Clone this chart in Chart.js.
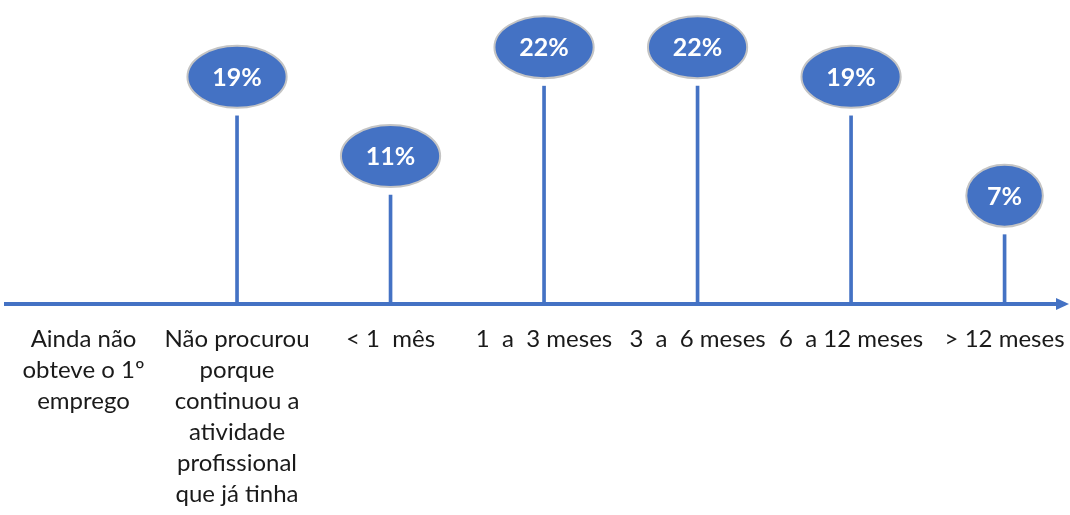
<!DOCTYPE html>
<html>
<head>
<meta charset="utf-8">
<script src="https://cdn.jsdelivr.net/npm/chart.js@4"></script>
<style>
html,body{margin:0;padding:0;background:#fff;}
#wrap{width:1070px;height:515px;}
</style>
</head>
<body>
<div id="wrap"><canvas id="c" width="1070" height="515"></canvas></div>
<script>
const categories = [
  ["Ainda não","obteve o 1º","emprego"],
  ["Não procurou","porque","continuou a","atividade","profissional","que já tinha"],
  ["< 1  mês"],
  ["1  a  3 meses"],
  ["3  a  6 meses"],
  ["6  a 12 meses"],
  ["> 12 meses"]
];
const values = [null, 19, 11, 22, 22, 19, 7];
const valueLabels = ["", "19%", "11%", "22%", "22%", "19%", "7%"];

const BLUE = '#4472C4';

const ellipsePlugin = {
  id: 'ellipses',
  afterDatasetsDraw(chart) {
    const ctx = chart.ctx;
    const meta = chart.getDatasetMeta(0);
    meta.data.forEach((el, i) => {
      if (values[i] === null || values[i] === undefined) return;
      const txt = valueLabels[i];
      ctx.save();
      ctx.font = 'bold 25px Lato';
      const tw = ctx.measureText(txt).width;
      const rx = tw * 0.78 + 11;
      const ry = 31;
      const cx = el.x;
      const cy = el.y - 39;
      ctx.beginPath();
      ctx.ellipse(cx, cy, rx, ry, 0, 0, Math.PI * 2);
      ctx.fillStyle = BLUE;
      ctx.fill();
      ctx.lineWidth = 2;
      ctx.strokeStyle = '#C4C4C4';
      ctx.stroke();
      ctx.fillStyle = '#ffffff';
      ctx.textAlign = 'center';
      ctx.textBaseline = 'middle';
      ctx.fillText(txt, cx, cy + 1);
      ctx.restore();
    });
  }
};

const arrowPlugin = {
  id: 'arrow',
  afterDraw(chart) {
    const ctx = chart.ctx;
    const a = chart.chartArea;
    const y = a.bottom;
    ctx.save();
    ctx.fillStyle = BLUE;
    ctx.beginPath();
    ctx.moveTo(a.right - 2, y - 6);
    ctx.lineTo(a.right + 11, y);
    ctx.lineTo(a.right - 2, y + 6);
    ctx.closePath();
    ctx.fill();
    ctx.restore();
  }
};

new Chart(document.getElementById('c'), {
  type: 'bar',
  data: {
    datasets: [{
      data: values.map((v, i) => ({ x: i, y: v })),
      backgroundColor: BLUE,
      borderWidth: 0,
      barThickness: 3
    }]
  },
  options: {
    responsive: false,
    animation: false,
    layout: { padding: { left: 6, right: 12, top: 0, bottom: 0 } },
    plugins: { legend: { display: false }, tooltip: { enabled: false } },
    scales: {
      x: {
        type: 'linear',
        min: -0.505,
        max: 6.348,
        offset: false,
        grid: { display: true, color: 'rgba(0,0,0,0)', drawTicks: false },
        border: { display: true, color: BLUE, width: 4 },
        afterBuildTicks(scale) {
          scale.ticks = categories.map((_, i) => ({ value: i }));
        },
        afterFit(scale) {
          scale.height = 211;
          scale.paddingLeft = 0;
          scale.paddingRight = 0;
        },
        ticks: {
          autoSkip: false,
          maxRotation: 0,
          minRotation: 0,
          padding: 20,
          color: '#1a1a1a',
          font: { family: 'Lato', size: 24, lineHeight: 1.29 },
          callback: (v) => categories[v] || ''
        }
      },
      y: {
        display: false,
        min: 0,
        max: 30.7
      }
    }
  },
  plugins: [ellipsePlugin, arrowPlugin]
});
</script>
</body>
</html>
